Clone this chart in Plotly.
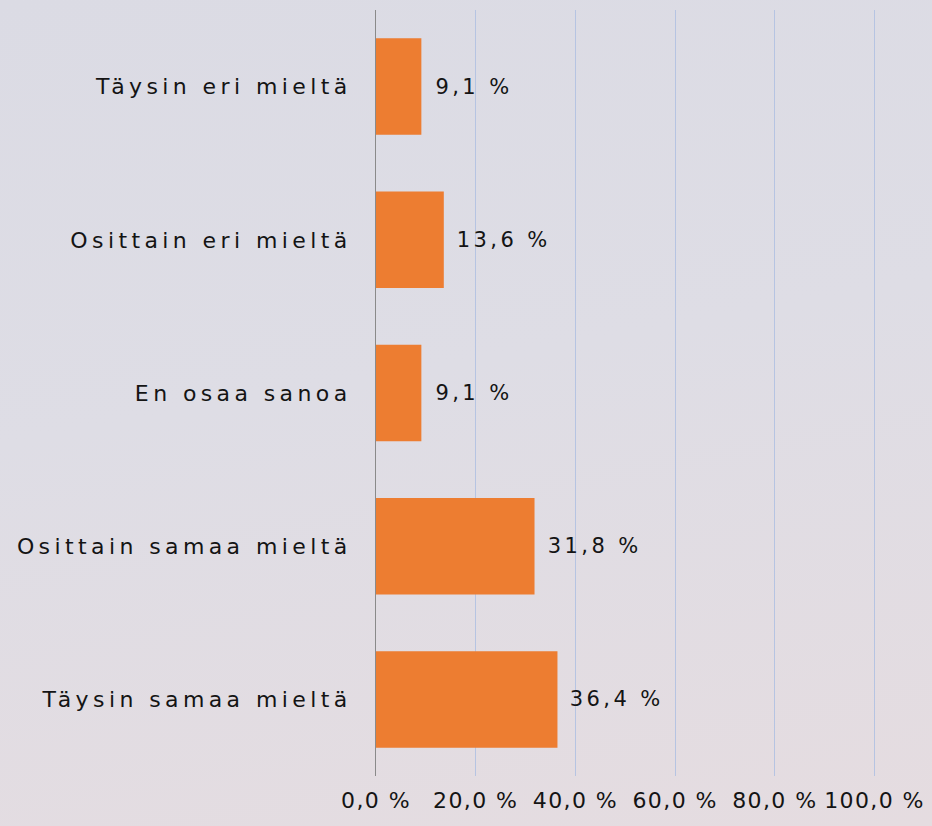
import plotly.graph_objects as go

categories = ["Täysin eri mieltä", "Osittain eri mieltä", "En osaa sanoa",
              "Osittain samaa mieltä", "Täysin samaa mieltä"]
values = [9.1, 13.6, 9.1, 31.8, 36.4]
value_labels = ["9,1 %", "13,6 %", "9,1 %", "31,8 %", "36,4 %"]
tick_values = [0, 20, 40, 60, 80, 100]
tick_labels = ["0,0 %", "20,0 %", "40,0 %", "60,0 %", "80,0 %", "100,0 %"]

FONT = "DejaVu Sans"
TXT = "#141414"
fig = go.Figure(go.Bar(
    x=values, y=categories, orientation="h",
    marker=dict(color="#ED7D31", line=dict(width=0)),
    width=0.63, hoverinfo="skip",
))
for v, c, t in zip(values, categories, value_labels):
    fig.add_annotation(x=v, y=c, text=t, showarrow=False, xanchor="left",
                       xshift=21, font=dict(family=FONT, size=21, color=TXT))
fig.update_layout(
    width=932, height=826,
    margin=dict(l=376, r=56, t=10, b=50),
    paper_bgcolor="rgba(0,0,0,0)", plot_bgcolor="rgba(0,0,0,0)",
    showlegend=False,
    font=dict(family=FONT, size=21, color=TXT),
)
fig.update_xaxes(
    range=[0, 100.3], tickvals=tick_values, ticktext=tick_labels,
    showgrid=True, gridcolor="#b6c4e2", gridwidth=1,
    zeroline=False, showline=False, ticks="",
    ticklabelstandoff=9,
    tickfont=dict(family=FONT, size=22, color=TXT),
)
fig.update_yaxes(
    autorange="reversed", showgrid=False, ticks="",
    showline=True, linecolor="#8a8a8a", linewidth=1,
    ticklabelstandoff=19,
    tickfont=dict(family=FONT, size=22, color=TXT),
)

post = """
document.body.style.margin = '0';
document.documentElement.style.background = 'linear-gradient(170deg, #dbdbe4 0%, #dedde5 45%, #e5dce0 100%)';
document.body.style.background = 'transparent';
function spacing() {
  document.querySelectorAll('.ytick text').forEach(function(t){ t.style.letterSpacing = '4.4px'; });
  document.querySelectorAll('.xtick text').forEach(function(t){ t.style.letterSpacing = '1.4px'; });
  document.querySelectorAll('.annotation-text').forEach(function(t){ t.style.letterSpacing = '3.4px'; });
}
spacing();
setTimeout(spacing, 50);
setTimeout(spacing, 300);
"""
fig.write_html("out.html", post_script=post, config={"displayModeBar": False})
